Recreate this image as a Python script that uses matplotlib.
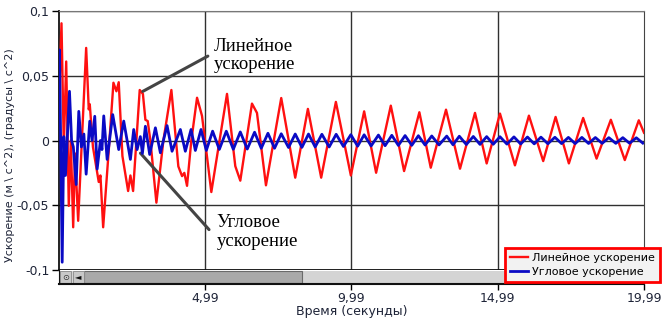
import matplotlib
matplotlib.use("Agg")
import matplotlib.pyplot as plt
from matplotlib.patches import Rectangle

# time (s) / value at the turning points
red_t = [0, 0.085, 0.164, 0.246, 0.334, 0.403, 0.485, 0.546, 0.655, 0.928,
         1.017, 1.051, 1.160, 1.358, 1.416, 1.509, 1.724, 1.860, 1.962, 2.041,
         2.167, 2.362, 2.440, 2.532, 2.645, 2.758, 2.867, 2.952, 3.031, 3.123,
         3.328, 3.567, 3.840, 4.078, 4.205, 4.283, 4.375, 4.522, 4.717, 4.887,
         5.205, 5.741, 6.024, 6.195, 6.594, 6.765, 7.072, 7.594, 8.072, 8.505,
         8.959, 9.461, 9.973, 10.427, 10.836, 11.338, 11.792, 12.314, 12.703, 13.225,
         13.703, 14.215, 14.614, 15.068, 15.580, 16.058, 16.546, 16.969, 17.423, 17.911,
         18.369, 18.857, 19.334, 19.812, 19.99]
red_v = [0.03, 0.0905, -0.005, 0.061, -0.0505, 0.0, -0.067, -0.01, -0.062, 0.0715,
         0.024, 0.028, -0.005, -0.032, -0.027, -0.067, 0.0, 0.0446, 0.038, 0.045,
         -0.012, -0.039, -0.027, -0.039, 0.0, 0.039, 0.036, 0.016, 0.015, 0.0,
         -0.048, 0.0, 0.039, -0.02, -0.0275, -0.025, -0.035, 0.0, 0.033, 0.019,
         -0.0398, 0.036, -0.0198, -0.031, 0.0285, 0.0213, -0.0346, 0.0328, -0.0287, 0.0244,
         -0.0287, 0.0298, -0.027, 0.0225, -0.0249, 0.0269, -0.0236, 0.0218, -0.021, 0.0238,
         -0.0218, 0.0213, -0.0177, 0.0208, -0.0192, 0.0192, -0.0159, 0.0182, -0.0177, 0.0174,
         -0.014, 0.016, -0.0151, 0.0156, 0.006]

blue_t = [0.0, 0.017, 0.109, 0.164, 0.222, 0.358, 0.43, 0.49, 0.587, 0.676,
          0.765, 0.85, 0.928, 1.051, 1.13, 1.222, 1.304, 1.416, 1.468, 1.529,
          1.645, 1.836, 2.041, 2.212, 2.440, 2.553, 2.669, 2.78, 2.85, 2.952,
          3.099, 3.294, 3.464, 3.693, 3.863, 4.147, 4.317, 4.512, 4.659, 4.853,
          5.034, 5.249, 5.478, 5.717, 5.956, 6.195, 6.433, 6.683, 6.911, 7.140,
          7.365, 7.594, 7.843, 8.072, 8.300, 8.526, 8.754, 8.983, 9.232, 9.471,
          9.720, 9.973, 10.205, 10.427, 10.666, 10.915, 11.143, 11.372, 11.597, 11.826,
          12.055, 12.280, 12.509, 12.737, 12.986, 13.249, 13.464, 13.679, 13.918, 14.157,
          14.386, 14.614, 14.840, 15.068, 15.307, 15.546, 15.775, 16.007, 16.239, 16.468,
          16.706, 16.945, 17.174, 17.406, 17.638, 17.867, 18.096, 18.328, 18.560, 18.788,
          19.027, 19.266, 19.495, 19.727, 19.949]
blue_v = [0.06, 0.07, -0.094, 0.003, -0.027, 0.038, 0.0, -0.005, -0.034, 0.0225,
          -0.005, 0.005, -0.026, 0.0149, 0.0, 0.0187, -0.022, 0.0, -0.007, 0.019,
          -0.0146, 0.02, -0.007, 0.015, -0.0146, 0.0085, -0.007, 0.003, -0.01, 0.011,
          -0.0108, 0.0098, -0.0095, 0.0115, -0.0083, 0.0085, -0.0083, 0.0085, -0.0077, 0.0085,
          -0.0077, 0.0072, -0.0069, 0.0072, -0.0068, 0.0066, -0.0066, 0.0064, -0.006, 0.0056,
          -0.006, 0.0052, -0.0054, 0.005, -0.0053, 0.005, -0.005, 0.0048, -0.005, 0.0048,
          -0.0046, 0.0045, -0.0044, 0.0044, -0.0042, 0.0042, -0.004, 0.004, -0.0038, 0.0038,
          -0.0037, 0.0037, -0.0035, 0.0035, -0.0034, 0.0034, -0.0033, 0.0033, -0.0031, 0.0031,
          -0.003, 0.003, -0.0029, 0.0029, -0.0028, 0.0028, -0.0027, 0.0027, -0.0026, 0.0026,
          -0.0025, 0.0025, -0.0024, 0.0024, -0.0024, 0.0024, -0.0023, 0.0023, -0.0022, 0.0022,
          -0.0022, 0.0022, -0.0021, 0.0021, -0.002]

y_ticks = [-0.1, -0.05, 0, 0.05, 0.1]
y_labels = ["-0,1", "-0,05", "0", "0,05", "0,1"]
x_ticks = [4.99, 9.99, 14.99, 19.99]
x_labels = ["4,99", "9,99", "14,99", "19,99"]

W, H = 664, 323
txt = "#1e2438"
plt.rcParams['font.family'] = ['DejaVu Sans']

fig = plt.figure(figsize=(W / 100, H / 100), dpi=100)
ax = fig.add_axes([59 / W, 1 - 270 / H, 585 / W, 259 / H])
sax = fig.add_axes([59 / W, 1 - 284 / H, 585 / W, 14 / H])

ax.set_xlim(0, 19.99)
ax.set_ylim(-0.1, 0.1)
ax.set_xticks(x_ticks[:3])
ax.tick_params(axis='x', length=0, labelbottom=False)
ax.set_yticks(y_ticks)
ax.set_yticklabels(y_labels)
ax.tick_params(axis='y', direction='out', length=5, width=1, pad=2,
               labelsize=9, labelcolor=txt)
ax.grid(True, color="#303030", lw=1)
for s in ["left", "bottom"]:
    ax.spines[s].set_color("#111111")
    ax.spines[s].set_linewidth(1.3)
ax.spines["top"].set_color("#777777")
ax.spines["right"].set_color("#444444")

l1, = ax.plot(red_t, red_v, color="#ff1010", lw=1.7, label="Линейное ускорение", zorder=3)
l2, = ax.plot(blue_t, blue_v, color="#0a0ac4", lw=2.0, label="Угловое ускорение", zorder=4)

serif = ["Liberation Serif", "DejaVu Serif"]
ax.annotate("", xy=(2.78, 0.0369), xytext=(5.17, 0.0662),
            arrowprops=dict(arrowstyle="-", color="#444444", lw=2.2))
ax.annotate("", xy=(2.72, -0.0082), xytext=(5.19, -0.0704),
            arrowprops=dict(arrowstyle="-", color="#444444", lw=2.2))
ax.text(5.28, 0.0795, "Линейное\nускорение", family=serif, fontsize=13.5,
        va="top", ha="left", linespacing=1.15, zorder=5)
ax.text(5.38, -0.0565, "Угловое\nускорение", family=serif, fontsize=13.5,
        va="top", ha="left", linespacing=1.15, zorder=5)

# scrollbar strip under the plot
sax.set_xlim(0, 19.99)
sax.set_ylim(0, 1)
sax.set_facecolor("white")
sax.set_yticks([])
sax.set_xticks(x_ticks)
sax.set_xticklabels(x_labels)
sax.tick_params(axis='x', direction='out', length=4, width=1, pad=2,
                labelsize=9, labelcolor=txt)
sax.spines["top"].set_visible(False)
sax.spines["right"].set_visible(False)
sax.spines["left"].set_color("#111111")
sax.spines["bottom"].set_color("#111111")
sax.spines["bottom"].set_linewidth(1.5)
tr = sax.transAxes
sax.add_patch(Rectangle((0, 0.1), 1, 0.8, transform=tr, fc="#d4d4d4", ec="none"))
sax.add_patch(Rectangle((0.0427, 0.1), 0.372, 0.8, transform=tr, fc="#a9a9a9",
                        ec="#6a6a6a", lw=0.8))
sax.add_patch(Rectangle((0.002, 0.1), 0.018, 0.8, transform=tr, fc="#c8c8c8",
                        ec="#8a8a8a", lw=0.6))
sax.add_patch(Rectangle((0.024, 0.1), 0.018, 0.8, transform=tr, fc="#c8c8c8",
                        ec="#8a8a8a", lw=0.6))
sax.text(0.011, 0.5, "⊙", transform=tr, ha="center", va="center", fontsize=6, color="#333333")
sax.text(0.033, 0.5, "◄", transform=tr, ha="center", va="center", fontsize=6, color="#111111")

fig.text(352 / W, 1 - 311 / H, "Время (секунды)", ha="center", va="center",
         fontsize=9, color=txt)
fig.text(10 / W, 1 - 155 / H, "Ускорение (м \\ с^2), (градусы \\ с^2)", rotation=90,
         ha="center", va="center", fontsize=8, color=txt)

leg = fig.legend(handles=[l1, l2], loc="lower right",
                 bbox_to_anchor=(660 / W, 1 - 282 / H), fontsize=8,
                 frameon=True, fancybox=False, framealpha=1,
                 handlelength=1.6, handletextpad=0.4, labelspacing=0.35,
                 borderpad=0.45, borderaxespad=0)
leg.get_frame().set_edgecolor("#ff0000")
leg.get_frame().set_linewidth(2)
leg.get_frame().set_facecolor("#f2f2f2")

fig.savefig("out.png", dpi=100)
